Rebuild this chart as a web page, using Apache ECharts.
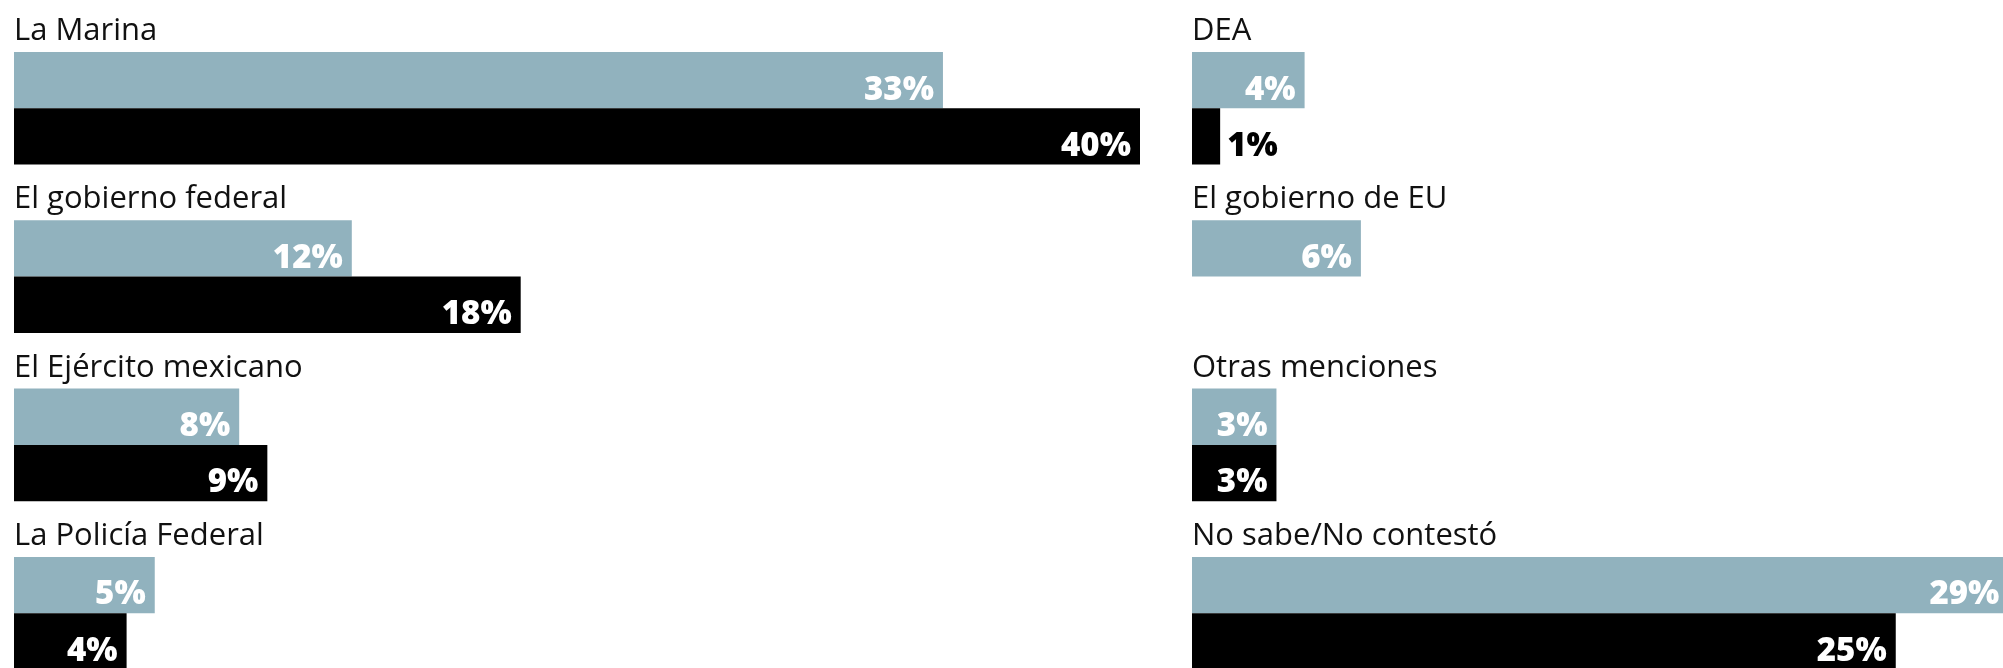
<!DOCTYPE html>
<html>
<head>
<meta charset="utf-8">
<script src="https://cdn.jsdelivr.net/npm/echarts@6/dist/echarts.min.js"></script>
<style>
html,body{margin:0;padding:0;background:#fff;}
#chart{width:2003px;height:668px;}
</style>
</head>
<body>
<div id="chart"></div>
<script>
const leftCategories = ['La Marina', 'El gobierno federal', 'El Ejército mexicano', 'La Policía Federal'];
const leftLight = [33, 12, 8, 5];
const leftDark = [40, 18, 9, 4];
const rightCategories = ['DEA', 'El gobierno de EU', 'Otras menciones', 'No sabe/No contestó'];
const rightLight = [4, 6, 3, 29];
const rightDark = [1, null, 3, 25];

const LIGHT = '#91b2be';
const DARK = '#000000';
const FONT = '"Open Sans", "Noto Sans", sans-serif';

const chart = echarts.init(document.getElementById('chart'), null, {renderer: 'canvas'});

const valueLabel = {
  show: true,
  position: 'insideRight',
  distance: 9,
  offset: [0, 10],
  color: '#ffffff',
  fontFamily: FONT,
  fontWeight: 800,
  fontSize: 33,
  formatter: p => p.value + '%'
};

function toData(arr) {
  return arr.map(v => {
    if (v == null) return '-';
    if (v < 2) return {value: v, label: {position: 'right', color: '#000000', distance: 7}};
    return v;
  });
}

function barSeries(idx, data, color) {
  return {
    type: 'bar',
    xAxisIndex: idx,
    yAxisIndex: idx,
    data: toData(data),
    barWidth: 56.3,
    barGap: '0%',
    clip: false,
    itemStyle: {color: color},
    label: valueLabel,
    silent: true
  };
}

function yAxis(idx, cats) {
  return {
    type: 'category',
    gridIndex: idx,
    data: cats,
    inverse: true,
    axisLine: {show: false},
    axisTick: {show: false},
    splitLine: {show: false},
    axisLabel: {
      inside: true,
      interval: 0,
      showMinLabel: true,
      showMaxLabel: true,
      hideOverlap: false,
      margin: 0,
      align: 'left',
      verticalAlign: 'middle',
      formatter: v => '{t|' + v + '}\n{s| }',
      rich: {
        t: {fontFamily: FONT, fontSize: 31, lineHeight: 36, color: '#111111'},
        s: {fontSize: 2, height: 154, lineHeight: 154}
      }
    },
    z: 10
  };
}

function xAxis(idx) {
  return {
    type: 'value',
    gridIndex: idx,
    min: 0,
    max: 40,
    show: false
  };
}

chart.setOption({
  backgroundColor: '#ffffff',
  animation: false,
  grid: [
    {left: 14, top: 24.1, width: 1126, height: 673.3, outerBoundsMode: 'none'},
    {left: 1192, top: 24.1, width: 1126, height: 673.3, outerBoundsMode: 'none'}
  ],
  xAxis: [xAxis(0), xAxis(1)],
  yAxis: [yAxis(0, leftCategories), yAxis(1, rightCategories)],
  series: [
    barSeries(0, leftLight, LIGHT),
    barSeries(0, leftDark, DARK),
    barSeries(1, rightLight, LIGHT),
    barSeries(1, rightDark, DARK)
  ]
});
</script>
</body>
</html>
